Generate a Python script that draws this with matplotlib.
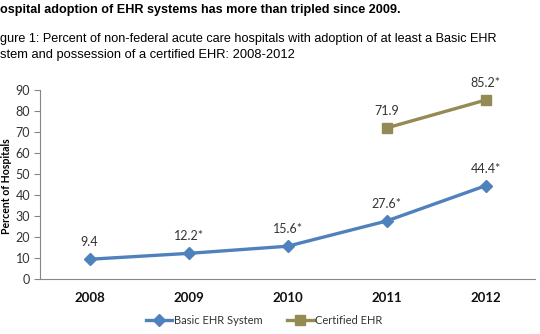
import numpy as np
import matplotlib.pyplot as plt

years = ['2008', '2009', '2010', '2011', '2012']
basic = [9.4, 12.2, 15.6, 27.6, 44.4]
basic_labels = ['9.4', '12.2*', '15.6*', '27.6*', '44.4*']
cert_years = ['2011', '2012']
cert = [71.9, 85.2]
cert_labels = ['71.9', '85.2*']

blue = '#4F81BD'
olive = '#948A54'
gray = '#868686'
txt = '#333333'

fig = plt.figure(figsize=(5.4, 3.34), dpi=100)

# headline and caption, as much of them as the source crop shows
fig.text(0.0, 0.97, 'ospital adoption of EHR systems has more than tripled since 2009.',
         fontsize=9.1, fontweight='bold', family='Liberation Sans', va='center', ha='left')
fig.text(0.0, 0.883, 'gure 1: Percent of non-federal acute care hospitals with adoption of at least a Basic EHR',
         fontsize=9.1, family='Liberation Sans', va='center', ha='left')
fig.text(0.0, 0.835, 'stem and possession of a certified EHR: 2008-2012',
         fontsize=9.3, family='Liberation Sans', va='center', ha='left')

ax = fig.add_axes([40 / 540, 1 - 279 / 334, 495 / 540, 189 / 334])
x = np.arange(len(years)) + 0.5
xc = np.array([years.index(y) for y in cert_years]) + 0.5

ax.plot(x, basic, color=blue, lw=2.4, marker='D', ms=6, label='Basic EHR System')
ax.plot(xc, cert, color=olive, lw=2.4, marker='s', ms=6.5, label='Certified EHR')

for xi, v, t in zip(x, basic, basic_labels):
    ax.annotate(t, (xi, v), xytext=(0, 8), textcoords='offset points',
                ha='center', va='bottom', fontsize=9, family='Lato', color=txt)
for xi, v, t in zip(xc, cert, cert_labels):
    ax.annotate(t, (xi, v), xytext=(0, 8), textcoords='offset points',
                ha='center', va='bottom', fontsize=9, family='Lato', color=txt)

ax.set_xlim(0, 5)
ax.set_ylim(0, 90)
ax.set_yticks(range(0, 91, 10))
ax.set_xticks(x)
ax.set_xticklabels(years, fontweight='bold', family='Lato', fontsize=9.5, color='#111111')
ax.tick_params(axis='x', length=0, pad=9)
ax.tick_params(axis='y', length=4, color=gray, labelsize=9, labelcolor=txt, pad=3)
for lab in ax.get_yticklabels():
    lab.set_family('Lato')
ax.set_ylabel('Percent of Hospitals', fontweight='bold', family='Lato', fontsize=7.6)
ax.yaxis.set_label_coords(-0.056, 0.49)

for s in ['top', 'right']:
    ax.spines[s].set_visible(False)
for s in ['left', 'bottom']:
    ax.spines[s].set_color(gray)
    ax.spines[s].set_linewidth(0.8)

fig.legend(loc='center', bbox_to_anchor=(0.489, 1 - 320 / 334), ncol=2, frameon=False,
           prop={'family': 'Lato', 'size': 8}, handlelength=2.4, columnspacing=2.2,
           handletextpad=0.15, labelcolor=txt)

fig.savefig('out.png', dpi=100)
